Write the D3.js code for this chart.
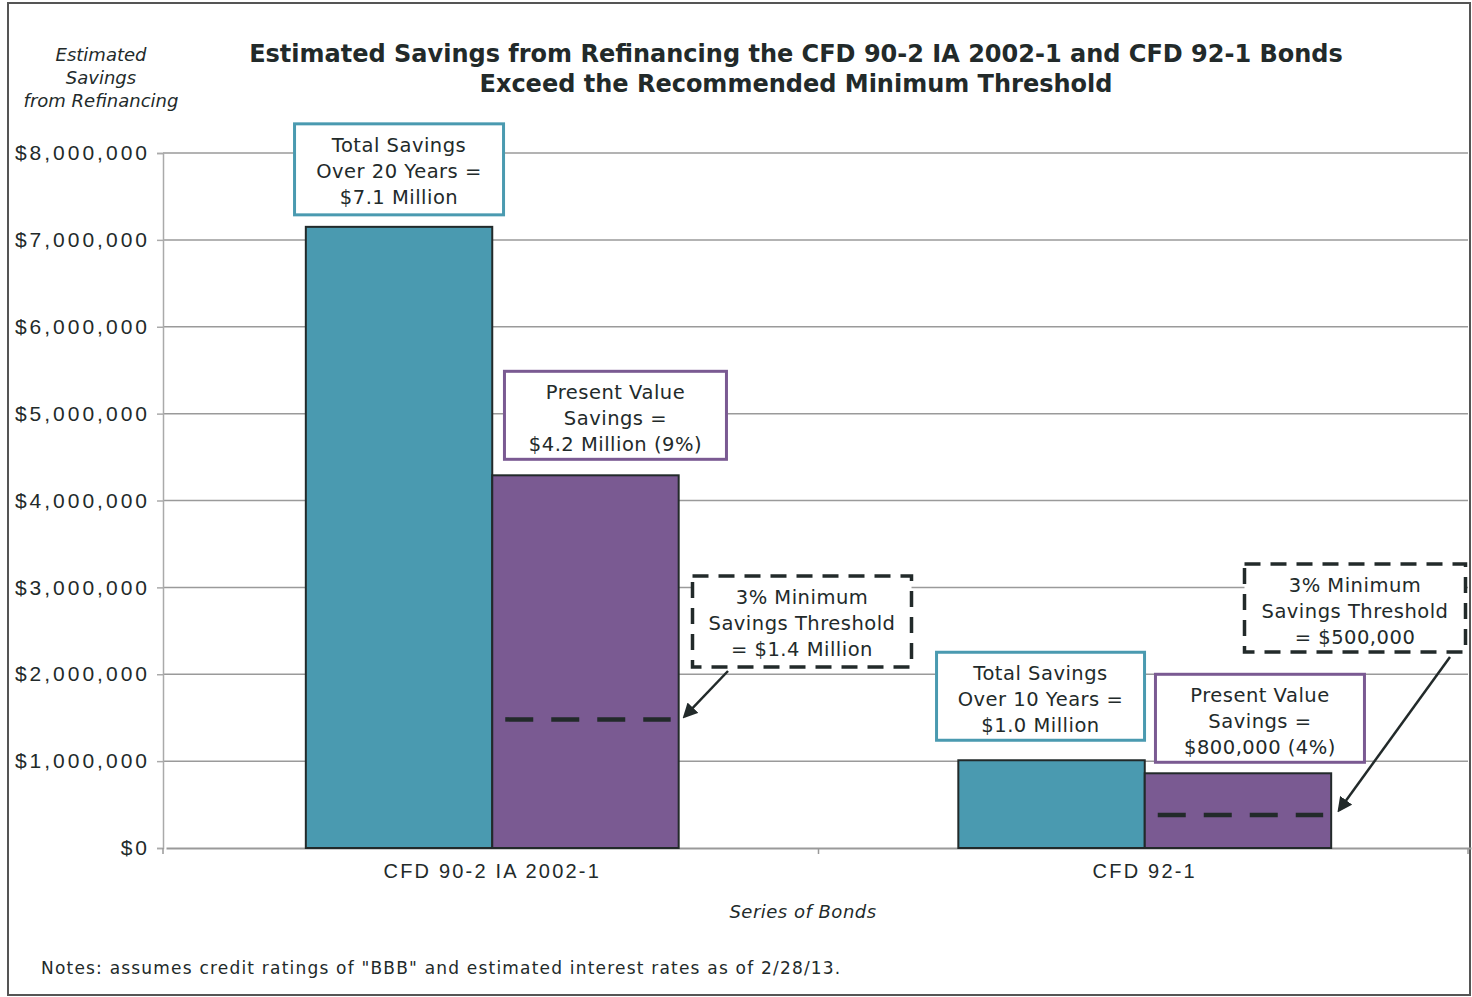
<!DOCTYPE html>
<html>
<head>
<meta charset="utf-8">
<script src="https://cdn.jsdelivr.net/npm/d3@7"></script>
<style>
  body { margin: 0; background: #fff; }
  svg { display: block; font-family: "DejaVu Sans", sans-serif; }
</style>
</head>
<body>
<div class="container"></div>
<script>
let width = 1472
let height = 997
let margin = { left: 163, right: 4, top: 153, bottom: 149 }

// data
const categories = ['CFD 90-2 IA 2002-1', 'CFD 92-1']
const totalSavings = [7150000, 1010000]
const presentValue = [4290000, 860000]
const threshold = [1480000, 380000]
const yTicks = [0, 1000000, 2000000, 3000000, 4000000, 5000000, 6000000, 7000000, 8000000]

const titleLines = ['Estimated Savings from Refinancing the CFD 90-2 IA 2002-1 and CFD 92-1 Bonds',
    'Exceed the Recommended Minimum Threshold']
const yLabelLines = ['Estimated', 'Savings', 'from Refinancing']
const totalNotes = [['Total Savings', 'Over 20 Years =', '$7.1 Million'],
    ['Total Savings', 'Over 10 Years =', '$1.0 Million']]
const pvNotes = [['Present Value', 'Savings =', '$4.2 Million (9%)'],
    ['Present Value', 'Savings =', '$800,000 (4%)']]
const thresholdNotes = [['3% Minimum', 'Savings Threshold', '= $1.4 Million'],
    ['3% Minimum', 'Savings Threshold', '= $500,000']]
const xTitle = 'Series of Bonds'
const note = 'Notes: assumes credit ratings of "BBB" and estimated interest rates as of 2/28/13.'

const teal = '#4a9ab0'
const purple = '#7a5a92'
const ink = '#222a2a'

let svg = d3.select('.container')
    .append('svg')
    .attr('width', width)
    .attr('height', height)

// outer frame
svg.append('rect')
    .attr('x', 8).attr('y', 3)
    .attr('width', 1462).attr('height', 992)
    .attr('fill', 'none')
    .attr('stroke', '#555')
    .attr('stroke-width', 2)

let x = d3.scaleBand()
    .domain(categories)
    .range([margin.left + 3, width - margin.right + 3])

let inner = d3.scaleBand()
    .domain(['total', 'pv'])
    .range([0, x.bandwidth()])
    .paddingOuter(0.75)

let y = d3.scaleLinear()
    .domain([0, 8000000])
    .range([height - margin.bottom, margin.top])

// gridlines
svg.append('g')
    .selectAll('line')
    .data(yTicks.slice(1))
    .enter()
    .append('line')
    .attr('x1', margin.left)
    .attr('x2', width - margin.right)
    .attr('y1', d => y(d))
    .attr('y2', d => y(d))
    .attr('stroke', '#9a9a9a')
    .attr('stroke-width', 1.5)

// y axis
let yAxis = svg.append('g')
    .attr('transform', `translate(${margin.left},0)`)
    .call(d3.axisLeft(y).tickValues(yTicks).tickSize(6).tickPadding(7)
        .tickFormat(d => '$' + d3.format(',')(d)))
yAxis.select('.domain').attr('stroke', '#aaa').attr('stroke-width', 1.5)
yAxis.selectAll('.tick line').attr('stroke', '#aaa').attr('stroke-width', 1.5)
yAxis.selectAll('text')
    .attr('font-size', 21)
    .attr('letter-spacing', 3)
    .attr('fill', ink)

// x axis
let xAxis = svg.append('g')
    .attr('transform', `translate(0,${y(0)})`)
    .call(d3.axisBottom(x).tickSize(0).tickPadding(16))
xAxis.select('.domain').attr('stroke', '#999').attr('stroke-width', 2)
xAxis.selectAll('text')
    .attr('font-size', 20)
    .attr('letter-spacing', 2.2)
    .attr('fill', ink)
svg.append('g')
    .selectAll('line')
    .data([margin.left, width - margin.right, x(categories[1])])
    .enter()
    .append('line')
    .attr('x1', d => d).attr('x2', d => d)
    .attr('y1', y(0)).attr('y2', y(0) + 6)
    .attr('stroke', '#999')
    .attr('stroke-width', 1.5)

// bars
let groups = svg.append('g')
    .selectAll('g')
    .data(categories)
    .enter()
    .append('g')
    .attr('transform', d => `translate(${x(d)},0)`)

groups.append('rect')
    .attr('x', inner('total'))
    .attr('y', (d, i) => y(totalSavings[i]))
    .attr('width', inner.bandwidth())
    .attr('height', (d, i) => y(0) - y(totalSavings[i]))
    .attr('fill', teal)
    .attr('stroke', ink)
    .attr('stroke-width', 2)

groups.append('rect')
    .attr('x', inner('pv'))
    .attr('y', (d, i) => y(presentValue[i]))
    .attr('width', inner.bandwidth())
    .attr('height', (d, i) => y(0) - y(presentValue[i]))
    .attr('fill', purple)
    .attr('stroke', ink)
    .attr('stroke-width', 2)

// threshold dashes inside the present value bar
groups.append('line')
    .attr('x1', inner('pv') + 13)
    .attr('x2', inner('pv') + inner.bandwidth() - 8)
    .attr('y1', (d, i) => y(threshold[i]))
    .attr('y2', (d, i) => y(threshold[i]))
    .attr('stroke', ink)
    .attr('stroke-width', 4.5)
    .attr('stroke-dasharray', '28,18')

// annotation boxes
function noteBox(cx, top, w, h, lines, stroke, dashed) {
    let g = svg.append('g')
    g.append('rect')
        .attr('x', cx - w / 2).attr('y', top)
        .attr('width', w).attr('height', h)
        .attr('fill', '#fff')
        .attr('stroke', stroke)
        .attr('stroke-width', dashed ? 3.5 : 3)
        .attr('stroke-dasharray', dashed ? '16,10' : null)
    g.selectAll('text')
        .data(lines)
        .enter()
        .append('text')
        .attr('x', cx)
        .attr('y', (d, i) => top + 28 + i * 26)
        .attr('text-anchor', 'middle')
        .attr('font-size', 19.5)
        .attr('letter-spacing', 0.5)
        .attr('fill', ink)
        .text(d => d)
}

let barCenter = (i, key) => x(categories[i]) + inner(key) + inner.bandwidth() / 2

noteBox(barCenter(0, 'total'), y(totalSavings[0]) - 103, 209, 91, totalNotes[0], teal)
noteBox(barCenter(0, 'pv') + 30, y(presentValue[0]) - 104, 222, 88, pvNotes[0], purple)
noteBox(barCenter(1, 'total') - 11, y(totalSavings[1]) - 108, 208, 88, totalNotes[1], teal)
noteBox(barCenter(1, 'pv') + 22, y(presentValue[1]) - 99, 209, 88, pvNotes[1], purple)
noteBox(802, 576, 219, 91, thresholdNotes[0], ink, true)
noteBox(1355, 564, 221, 88, thresholdNotes[1], ink, true)

// arrows
svg.append('defs').append('marker')
    .attr('id', 'head')
    .attr('viewBox', '0 0 10 10')
    .attr('refX', 8).attr('refY', 5)
    .attr('markerWidth', 6).attr('markerHeight', 6)
    .attr('orient', 'auto')
    .append('path')
    .attr('d', 'M0,0 L10,5 L0,10 Z')
    .attr('fill', ink)

let arrows = [
    [728, 671, x(categories[0]) + inner('pv') + inner.bandwidth() + 6, y(threshold[0]) - 3],
    [1450, 657, x(categories[1]) + inner('pv') + inner.bandwidth() + 8, y(threshold[1]) - 5]
]
svg.append('g')
    .selectAll('line')
    .data(arrows)
    .enter()
    .append('line')
    .attr('x1', d => d[0]).attr('y1', d => d[1])
    .attr('x2', d => d[2]).attr('y2', d => d[3])
    .attr('stroke', ink)
    .attr('stroke-width', 2.5)
    .attr('marker-end', 'url(#head)')

// titles and labels
svg.append('g')
    .selectAll('text')
    .data(titleLines)
    .enter()
    .append('text')
    .attr('x', 796)
    .attr('y', (d, i) => 62 + i * 30)
    .attr('text-anchor', 'middle')
    .attr('font-size', 24)
    .attr('font-weight', 'bold')
    .attr('fill', ink)
    .text(d => d)

svg.append('g')
    .selectAll('text')
    .data(yLabelLines)
    .enter()
    .append('text')
    .attr('x', 101)
    .attr('y', (d, i) => 61 + i * 23)
    .attr('text-anchor', 'middle')
    .attr('font-size', 18)
    .attr('font-style', 'italic')
    .attr('fill', ink)
    .text(d => d)

svg.append('text')
    .attr('x', 803)
    .attr('y', 918)
    .attr('text-anchor', 'middle')
    .attr('font-size', 18)
    .attr('letter-spacing', 0.5)
    .attr('font-style', 'italic')
    .attr('fill', ink)
    .text(xTitle)

svg.append('text')
    .attr('x', 41)
    .attr('y', 974)
    .attr('font-size', 17)
    .attr('letter-spacing', 1.2)
    .attr('fill', ink)
    .text(note)
</script>
</body>
</html>
